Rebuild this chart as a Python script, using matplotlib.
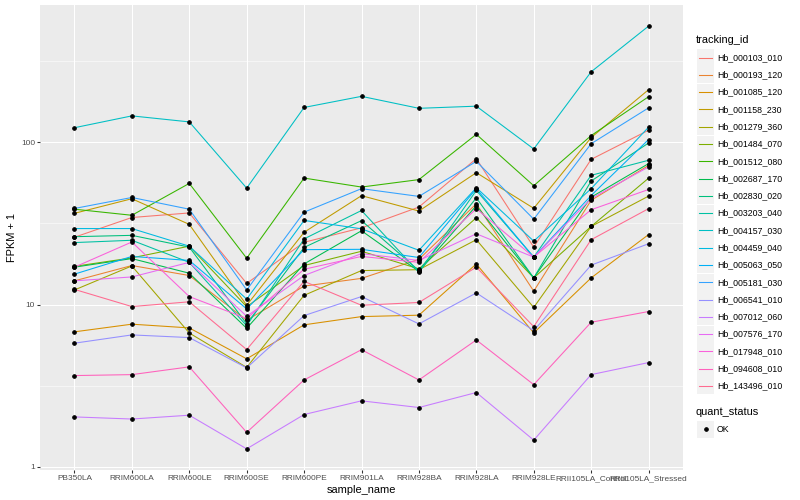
import numpy as np
import matplotlib
matplotlib.use("Agg")
import matplotlib.pyplot as plt
from matplotlib.patches import Rectangle
from matplotlib.ticker import FixedLocator, NullFormatter

plt.rcParams['font.family'] = ['Liberation Sans', 'DejaVu Sans']

samples = ["PB350LA", "RRIM600LA", "RRIM600LE", "RRIM600SE", "RRIM600PE", "RRIM901LA",
           "RRIM928BA", "RRIM928LA", "RRIM928LE", "RRII105LA_Control", "RRII105LA_Stressed"]

tracking_ids = ["Hb_000103_010", "Hb_000193_120", "Hb_001085_120", "Hb_001158_230",
                "Hb_001279_360", "Hb_001484_070", "Hb_001512_080", "Hb_002687_170",
                "Hb_002830_020", "Hb_003203_040", "Hb_004157_030", "Hb_004459_040",
                "Hb_005063_050", "Hb_005181_030", "Hb_006541_010", "Hb_007012_060",
                "Hb_007576_170", "Hb_017948_010", "Hb_094608_010", "Hb_143496_010"]

colors = ["#F8766D", "#EA8331", "#D89000", "#C09B00", "#A3A500", "#7CAE00", "#39B600",
          "#00BB4E", "#00BF7D", "#00C1A3", "#00BFC4", "#00BAE0", "#00B0F6", "#35A2FF",
          "#9590FF", "#C77CFF", "#E76BF3", "#FA62DB", "#FF62BC", "#FF6C91"]

# FPKM + 1 per sample, one list per gene
hb_000103_010 = [26.0, 34.4, 36.7, 13.5, 24.2, 29.7, 39.9, 79.3, 22.6, 78.5, 118.7]
hb_000193_120 = [14.0, 17.4, 15.1, 8.0, 13.0, 14.5, 19.0, 41.8, 12.1, 43.9, 72.0]
hb_001085_120 = [6.79, 7.57, 7.18, 4.63, 7.5, 8.43, 8.6, 17.8, 6.69, 14.6, 27.0]
hb_001158_230 = [36.5, 44.9, 31.2, 9.9, 27.9, 46.9, 37.7, 65.0, 39.2, 107.0, 211.0]
hb_001279_360 = [12.3, 17.3, 6.68, 4.10, 11.4, 16.2, 16.4, 25.1, 9.6, 30.3, 46.6]
hb_001484_070 = [17.2, 19.4, 22.9, 9.7, 17.4, 21.3, 16.6, 34.3, 14.6, 30.3, 60.1]
hb_001512_080 = [38.7, 35.5, 55.8, 19.3, 60.2, 53.0, 58.9, 112.0, 54.0, 110.0, 191.0]
hb_002687_170 = [17.0, 19.2, 15.6, 7.14, 17.8, 28.5, 16.0, 40.7, 14.6, 45.9, 73.9]
hb_002830_020 = [26.2, 26.7, 22.6, 7.6, 22.5, 32.9, 16.2, 45.5, 14.6, 57.7, 99.0]
hb_003203_040 = [24.1, 24.9, 18.2, 7.4, 25.4, 38.0, 15.8, 50.5, 19.6, 62.6, 77.5]
hb_004157_030 = [123.0, 145.5, 133.6, 52.2, 164.0, 192.0, 162.0, 167.0, 91.0, 272.0, 520.0]
hb_004459_040 = [29.4, 29.4, 22.9, 10.8, 33.0, 29.3, 21.6, 52.5, 24.6, 51.8, 124.0]
hb_005063_050 = [15.4, 19.8, 18.7, 9.4, 21.8, 21.9, 19.5, 51.8, 19.6, 47.0, 104.0]
hb_005181_030 = [39.1, 45.7, 38.7, 12.3, 37.1, 51.8, 46.4, 76.3, 33.6, 98.0, 163.0]
hb_006541_010 = [5.78, 6.5, 6.26, 4.07, 8.55, 11.2, 7.6, 11.8, 6.91, 17.5, 23.7]
hb_007012_060 = [2.03, 1.97, 2.08, 1.29, 2.1, 2.55, 2.32, 2.87, 1.46, 3.70, 4.39]
hb_007576_170 = [14.0, 14.8, 18.2, 8.47, 15.1, 20.6, 18.7, 27.3, 19.6, 45.0, 70.5]
hb_017948_010 = [17.0, 24.3, 11.2, 8.2, 16.5, 19.8, 18.2, 39.0, 19.6, 38.4, 51.2]
hb_094608_010 = [3.65, 3.70, 4.13, 1.63, 3.43, 5.27, 3.43, 6.05, 3.21, 7.78, 9.06]
hb_143496_010 = [12.4, 9.72, 10.4, 5.28, 13.9, 9.9, 10.3, 17.0, 7.31, 25.1, 39.0]

series = [hb_000103_010, hb_000193_120, hb_001085_120, hb_001158_230, hb_001279_360,
          hb_001484_070, hb_001512_080, hb_002687_170, hb_002830_020, hb_003203_040,
          hb_004157_030, hb_004459_040, hb_005063_050, hb_005181_030, hb_006541_010,
          hb_007012_060, hb_007576_170, hb_017948_010, hb_094608_010, hb_143496_010]

y_ticks = [1, 10, 100]
y_minor = [10 ** 0.5, 10 ** 1.5, 10 ** 2.5]
quant_levels = ["OK"]

W, H = 800, 500
fig = plt.figure(figsize=(W / 72, H / 72), dpi=72)
ax = fig.add_axes([40 / W, 1 - 470 / H, 643 / W, 465 / H])
ax.set_facecolor("#EBEBEB")
for s in ax.spines.values():
    s.set_visible(False)

x = np.arange(len(samples))
for vals, col in zip(series, colors):
    ax.plot(x, vals, color=col, lw=1.07, zorder=3, solid_capstyle="butt")
for vals in series:
    ax.plot(x, vals, linestyle="none", marker="o", ms=3.6, color="black", zorder=4)

ax.set_yscale("log")
allv = np.log10(np.concatenate([np.array(v) for v in series]))
lo, hi = allv.min(), allv.max()
pad = 0.05 * (hi - lo)
ax.set_ylim(10 ** (lo - pad), 10 ** (hi + pad))
ax.set_xlim(-0.6, len(samples) - 1 + 0.6)

ax.yaxis.set_major_locator(FixedLocator(y_ticks))
ax.yaxis.set_minor_locator(FixedLocator(y_minor))
ax.yaxis.set_minor_formatter(NullFormatter())
ax.set_yticklabels([str(t) for t in y_ticks])
ax.set_xticks(x)
ax.set_xticklabels(samples)

ax.grid(True, which="major", color="white", lw=1.07, zorder=1)
ax.grid(True, which="minor", axis="y", color="white", lw=0.53, zorder=1)
ax.tick_params(axis="both", which="major", length=2.75, width=1.07, color="#333333",
               labelsize=8.3, labelcolor="#4D4D4D", pad=2.2)
ax.tick_params(axis="y", which="minor", length=0)
ax.set_axisbelow(True)

ax.set_xlabel("sample_name", fontsize=11, labelpad=3)
ax.set_ylabel("FPKM + 1", fontsize=11, labelpad=4)

# legends drawn in pixel space
lg = fig.add_axes([0, 0, 1, 1], facecolor="none")
lg.set_xlim(0, W)
lg.set_ylim(H, 0)
lg.axis("off")

lg.text(696, 40, "tracking_id", fontsize=11, va="center", ha="left")
y0, dy, ks = 57.6, 17.28, 17.0
for i, (tid, col) in enumerate(zip(tracking_ids, colors)):
    cy = y0 + i * dy
    lg.add_patch(Rectangle((697, cy - ks / 2), ks, ks, facecolor="#F2F2F2", edgecolor="none"))
    lg.plot([698.7, 712.3], [cy, cy], color=col, lw=1.07)
    lg.text(717, cy, tid, fontsize=8.8, va="center", ha="left")

lg.text(696, 412, "quant_status", fontsize=11, va="center", ha="left")
for j, q in enumerate(quant_levels):
    cy = 429 + j * dy
    lg.add_patch(Rectangle((697, cy - ks / 2), ks, ks, facecolor="#F2F2F2", edgecolor="none"))
    lg.plot([705.5], [cy], marker="o", ms=3.6, color="black", linestyle="none")
    lg.text(717, cy, q, fontsize=8.8, va="center", ha="left")

fig.savefig("out.png", dpi=72)
